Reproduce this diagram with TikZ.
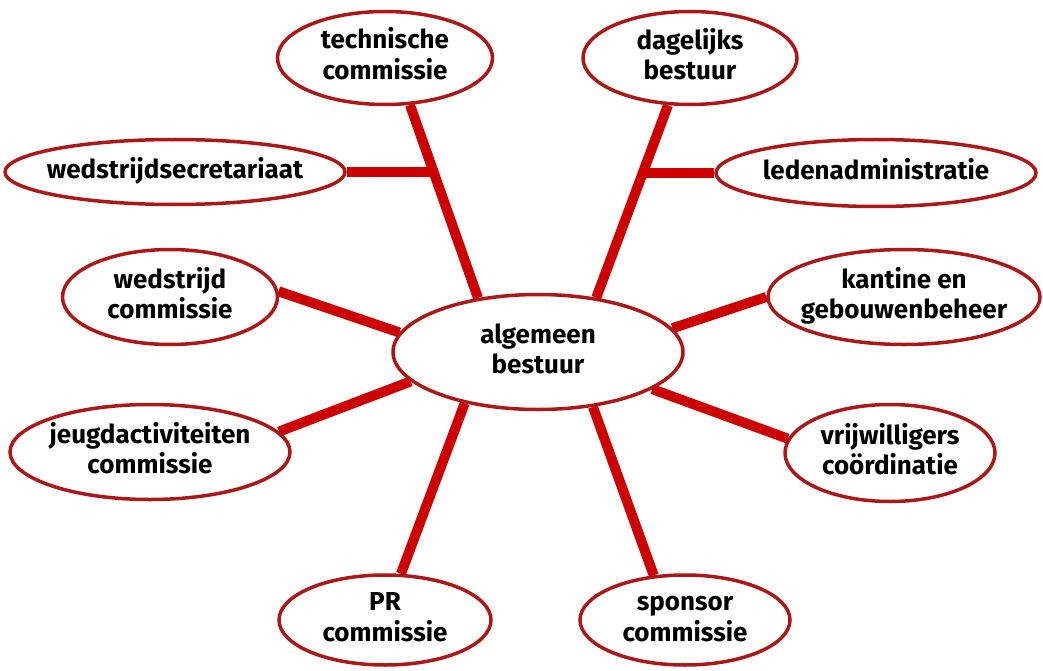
\documentclass[tikz,border=0pt]{standalone}
\usepackage{fontspec}
\setmainfont{Fira Sans}
\usetikzlibrary{shapes.geometric,backgrounds}

\definecolor{spokered}{RGB}{204,0,0}
\definecolor{rimred}{RGB}{172,24,24}
\newcommand{\bubbletext}[1]{\makebox[0pt]{\begin{tabular}{@{}c@{}}#1\end{tabular}}}

\begin{document}
\begin{tikzpicture}[x=1pt,y=-1pt,
    bubble/.style={ellipse, draw=rimred, line width=3.5pt, fill=white, inner sep=0pt,
      font=\fontsize{26}{30}\selectfont\bfseries},
    spoke/.style={draw=spokered, line width=10pt}]
    \useasboundingbox (0,0) rectangle (1043,671);

    \node[bubble, minimum width=290pt, minimum height=115pt] (alg) at (538,352) {\bubbletext{algemeen\\bestuur}};

    \node[bubble, minimum width=215pt, minimum height=93pt] (tech) at (385, 58) {\bubbletext{technische\\commissie}};
    \node[bubble, minimum width=214pt, minimum height=93pt] (dag)  at (690, 58) {\bubbletext{dagelijks\\bestuur}};
    \node[bubble, minimum width=340pt, minimum height=65pt] (wss)  at (175,172) {\bubbletext{wedstrijdsecretariaat}};
    \node[bubble, minimum width=320pt, minimum height=67pt] (led)  at (876,173) {\bubbletext{ledenadministratie}};
    \node[bubble, minimum width=215pt, minimum height=95pt] (wed)  at (170,297) {\bubbletext{wedstrijd\\commissie}};
    \node[bubble, minimum width=272pt, minimum height=95pt] (kant) at (904,297) {\bubbletext{kantine en\\gebouwenbeheer}};
    \node[bubble, minimum width=280pt, minimum height=95pt] (jeugd) at (150,452) {\bubbletext{jeugdactiviteiten\\commissie}};
    \node[bubble, minimum width=210pt, minimum height=97pt] (vrij) at (890,453) {\bubbletext{vrijwilligers\\coördinatie}};
    \node[bubble, minimum width=212pt, minimum height=90pt] (pr)   at (385,620) {\bubbletext{PR\\commissie}};
    \node[bubble, minimum width=210pt, minimum height=90pt] (spon) at (685,620) {\bubbletext{sponsor\\commissie}};

    \begin{scope}[on background layer]
        \draw[spoke] (alg.138) -- (tech.-62) coordinate[pos=0.65] (wssj);
        \draw[spoke] (alg.43) -- (dag.-115) coordinate[pos=0.64] (ledj);
        \draw[spoke] (wss) -- (wssj |- wss);
        \draw[spoke] (led) -- (ledj |- led);
        \draw[spoke] (alg.172) -- (wed.3);
        \draw[spoke] (alg.10) -- (kant.180);
        \draw[spoke] (alg.193) -- (jeugd.9);
        \draw[spoke] (alg.-18) -- (vrij.172);
        \draw[spoke] (alg.215) -- (pr.71);
        \draw[spoke] (alg.-45) -- (spon.125);
    \end{scope}
\end{tikzpicture}
\end{document}
